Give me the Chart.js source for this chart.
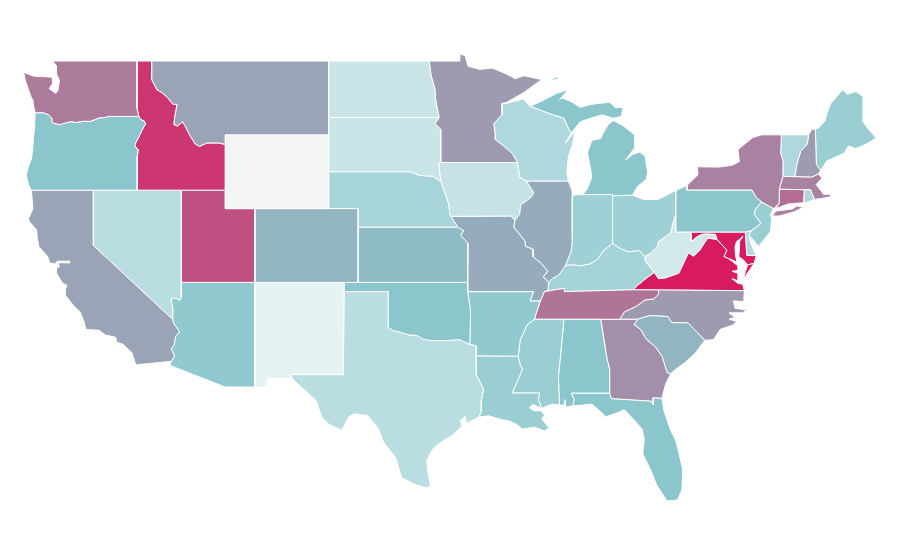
<!DOCTYPE html>
<html>
<head>
<meta charset="utf-8">
<title>US states</title>
<style>
  html, body { margin: 0; padding: 0; background: #fff; }
  canvas { display: block; }
</style>
<script src="https://cdn.jsdelivr.net/npm/chart.js@4"></script>
</head>
<body>
<canvas id="map" width="900" height="560"></canvas>
<script>
// state values
const stateCodes = ['WA','OR','CA','ID','NV','MT','WY','UT','AZ','CO','NM','ND','SD','NE','KS','OK','TX',
  'MN','IA','MO','AR','LA','WI','IL','MS','AL','TN','KY','IN','MI','OH','GA','FL','SC','NC','VA','WV','MD',
  'DE','PA','NJ','NY','CT','RI','MA','VT','NH','ME'];
const stateValues = [72,50,60,92,27,60,0,84,47,55,5,19,19,36,53,50,27,
  63,21,58,47,42,32,58,42,50,74,37,40,50,40,66,50,55,63,100,15,100,
  29,50,42,70,76,32,70,32,63,42];

// outlines, [lon, lat] rings per state
const WA = [[[-122.76,49],[-117.03,49],[-117.04,46.42],[-116.92,46],[-118.98,46],[-119.3,45.93],[-119.6,45.92],[-120.2,45.73],[-120.65,45.74],[-121.2,45.67],[-121.5,45.72],[-122,45.62],[-122.3,45.55],[-122.76,45.65],[-122.8,45.88],[-123,46.08],[-123.4,46.2],[-123.95,46.2],[-124.07,46.64],[-124.1,46.9],[-124.2,47],[-124.35,47.35],[-124.6,47.9],[-124.73,48.38],[-124,48.17],[-123.2,48.15],[-122.8,48.12],[-122.75,47.8],[-123,47.5],[-122.55,47.25],[-122.4,47.4],[-122.35,47.7],[-122.3,47.95],[-122.5,48.3],[-122.5,48.75]]];
const OR = [[[-123.95,46.2],[-123.4,46.2],[-123,46.08],[-122.8,45.88],[-122.76,45.65],[-122.3,45.55],[-122,45.62],[-121.5,45.72],[-121.2,45.67],[-120.65,45.74],[-120.2,45.73],[-119.6,45.92],[-119.3,45.93],[-118.98,46],[-116.92,46],[-116.78,45.82],[-116.55,45.75],[-116.46,45.6],[-116.67,45.3],[-116.85,45],[-117.2,44.45],[-117.05,44.23],[-116.95,44.2],[-117.03,43.83],[-117.03,42],[-124.21,42],[-124.4,42.3],[-124.55,42.84],[-124.4,43.3],[-124.2,43.7],[-124.1,44.3],[-124.07,44.8],[-123.98,45.4]]];
const CA = [[[-124.2,42],[-120,42],[-120,39],[-114.63,35],[-114.57,34.8],[-114.15,34.3],[-114.42,34.1],[-114.53,33.6],[-114.72,33.4],[-114.5,33],[-114.72,32.72],[-117.12,32.53],[-117.25,32.85],[-117.4,33.2],[-118,33.65],[-118.4,33.75],[-118.5,34.03],[-119.2,34.15],[-119.6,34.4],[-120.5,34.45],[-120.65,34.9],[-120.9,35.4],[-121.3,35.7],[-121.9,36.3],[-121.9,36.6],[-121.8,36.85],[-122.1,36.97],[-122.5,37.5],[-122.5,37.78],[-122.3,37.85],[-122.4,38.05],[-122,38.07],[-121.6,38.05],[-121.6,38.15],[-122.1,38.15],[-122.45,38.15],[-122.6,38],[-122.95,38.05],[-123.1,38.4],[-123.7,38.95],[-123.8,39.4],[-123.85,39.85],[-124.35,40.3],[-124.4,40.45],[-124.1,41]]];
const ID = [[[-117.03,49],[-116.05,49],[-116.05,48],[-115.7,47.45],[-115.3,47.25],[-114.95,47],[-114.6,46.65],[-114.33,46.65],[-114.46,46.1],[-114.55,45.56],[-114.3,45.47],[-113.95,45.7],[-113.8,45.5],[-113.45,44.95],[-113.1,44.5],[-112.8,44.37],[-112.3,44.55],[-111.5,44.55],[-111.05,44.47],[-111.05,42],[-117.03,42],[-117.03,43.83],[-116.95,44.2],[-117.05,44.23],[-117.2,44.45],[-116.85,45],[-116.67,45.3],[-116.46,45.6],[-116.55,45.75],[-116.78,45.82],[-116.92,46],[-117.04,46.42]]];
const NV = [[[-120,42],[-114.04,42],[-114.04,36.2],[-114.15,36.03],[-114.4,36.15],[-114.75,36.1],[-114.62,35.6],[-114.63,35],[-120,39]]];
const MT = [[[-116.05,49],[-104.05,49],[-104.05,45],[-111.05,45],[-111.05,44.47],[-111.5,44.55],[-112.3,44.55],[-112.8,44.37],[-113.1,44.5],[-113.45,44.95],[-113.8,45.5],[-113.95,45.7],[-114.3,45.47],[-114.55,45.56],[-114.46,46.1],[-114.33,46.65],[-114.6,46.65],[-114.95,47],[-115.3,47.25],[-115.7,47.45],[-116.05,48]]];
const WY = [[[-111.05,45],[-104.05,45],[-104.05,41],[-111.05,41]]];
const UT = [[[-114.04,42],[-111.05,42],[-111.05,41],[-109.05,41],[-109.05,37],[-114.04,37]]];
const AZ = [[[-114.04,37],[-109.05,37],[-109.05,31.33],[-111.07,31.33],[-114.81,32.5],[-114.72,32.72],[-114.5,33],[-114.72,33.4],[-114.53,33.6],[-114.42,34.1],[-114.15,34.3],[-114.57,34.8],[-114.63,35],[-114.62,35.6],[-114.75,36.1],[-114.4,36.15],[-114.15,36.03],[-114.05,36.2]]];
const CO = [[[-109.05,41],[-102.05,41],[-102.05,37],[-109.05,37]]];
const NM = [[[-109.05,37],[-103,37],[-103.05,32],[-106.62,32],[-106.53,31.78],[-108.2,31.78],[-108.2,31.33],[-109.05,31.33]]];
const ND = [[[-104.05,49],[-97.23,49],[-97.1,48.2],[-96.85,47.5],[-96.8,46.9],[-96.56,45.94],[-104.05,45.94]]];
const SD = [[[-104.05,45.94],[-96.56,45.94],[-96.85,45.6],[-96.45,45.3],[-96.45,43.5],[-96.6,43.5],[-96.45,42.49],[-97,42.75],[-97.9,42.8],[-98.5,43],[-104.05,43]]];
const NE = [[[-104.05,43],[-98.5,43],[-97.9,42.8],[-97,42.75],[-96.45,42.49],[-96.1,41.7],[-95.9,41.2],[-95.85,40.7],[-95.3,40],[-102.05,40],[-102.05,41],[-104.05,41]]];
const KS = [[[-102.05,40],[-95.3,40],[-94.9,39.8],[-95.1,39.55],[-94.6,39.12],[-94.62,37],[-102.05,37]]];
const OK = [[[-103,37],[-94.62,37],[-94.62,36.5],[-94.43,35.4],[-94.48,33.64],[-95.2,33.9],[-96,33.85],[-96.6,33.85],[-97.2,33.85],[-97.7,33.95],[-98.1,34.13],[-98.6,34.15],[-99.2,34.3],[-99.7,34.4],[-100,34.56],[-100,36.5],[-103,36.5]]];
const TX = [[[-103,36.5],[-100,36.5],[-100,34.56],[-99.7,34.4],[-99.2,34.3],[-98.6,34.15],[-98.1,34.13],[-97.7,33.95],[-97.2,33.85],[-96.6,33.85],[-96,33.85],[-95.2,33.9],[-94.48,33.64],[-94.04,33.55],[-94.04,32],[-93.55,31.2],[-93.7,30.6],[-93.7,30.05],[-93.85,29.7],[-94.7,29.35],[-94.8,29.75],[-95.1,29.5],[-95,29.2],[-95.6,28.75],[-96.4,28.35],[-96.9,28.05],[-97.2,27.65],[-97.4,27.3],[-97.35,26.9],[-97.15,25.97],[-97.4,25.85],[-98.2,26.05],[-99.1,26.4],[-99.5,27.5],[-100.3,28.3],[-100.7,29.1],[-101.4,29.77],[-102.3,29.88],[-102.7,29.7],[-103.15,28.98],[-104,29.3],[-104.5,29.65],[-104.9,30.6],[-106,31.4],[-106.53,31.78],[-106.62,32],[-103.05,32]]];
const MN = [[[-97.23,49],[-95.15,49],[-95.15,49.38],[-94.8,49.3],[-94.6,48.72],[-93.8,48.55],[-92.95,48.62],[-92,48.3],[-91.4,48.05],[-90.8,48.2],[-89.6,48],[-90.8,47.3],[-92,46.75],[-92.3,46.7],[-92.3,46.1],[-92.85,45.6],[-92.75,45],[-92.75,44.75],[-92.2,44.4],[-91.6,44],[-91.25,43.5],[-96.45,43.5],[-96.45,45.3],[-96.85,45.6],[-96.56,45.94],[-96.8,46.9],[-96.85,47.5],[-97.1,48.2]]];
const IA = [[[-96.6,43.5],[-91.25,43.5],[-91.1,42.7],[-90.65,42.5],[-90.15,41.85],[-90.35,41.6],[-91.05,41.2],[-91.1,40.7],[-91.42,40.38],[-91.7,40.6],[-95.77,40.58],[-95.85,40.7],[-95.9,41.2],[-96.1,41.7],[-96.45,42.49]]];
const MO = [[[-95.77,40.58],[-91.7,40.6],[-91.42,40.38],[-91.5,40],[-90.75,39.25],[-90.7,38.95],[-90.2,38.8],[-90.2,38.4],[-89.6,38],[-89.2,37.6],[-89.5,37.3],[-89.13,37],[-89.15,36.6],[-89.42,36.5],[-89.7,36],[-90.37,36],[-90.15,36.5],[-94.62,36.5],[-94.62,39.12],[-95.1,39.55],[-94.9,39.8],[-95.3,40]]];
const AR = [[[-94.62,36.5],[-90.15,36.5],[-90.37,36],[-89.7,36],[-90.1,35],[-90.6,34.7],[-91.05,33.9],[-91.2,33],[-94.04,33.02],[-94.04,33.55],[-94.48,33.64],[-94.43,35.4]]];
const LA = [[[-94.04,33.02],[-91.2,33],[-91.05,32.5],[-90.9,32.3],[-91.6,31],[-89.73,31],[-89.85,30.65],[-89.6,30.18],[-90.2,30.38],[-90.45,30.2],[-90.1,30.03],[-89.7,30.05],[-89.4,29.8],[-89.6,29.6],[-89.1,29.1],[-89.4,28.95],[-90.1,29.15],[-90.9,29.05],[-91.3,29.3],[-91.85,29.5],[-92.3,29.55],[-93.2,29.77],[-93.85,29.7],[-93.7,30.05],[-93.7,30.6],[-93.55,31.2],[-94.04,32]]];
const WI = [[[-92.3,46.7],[-92,46.7],[-90.85,46.95],[-90.4,46.55],[-89.1,46.15],[-88.1,45.9],[-87.8,45.35],[-87.6,45.1],[-88,44.55],[-87.35,45.2],[-87.5,44.5],[-87.8,43.8],[-87.9,43],[-87.8,42.5],[-90.65,42.5],[-91.1,42.7],[-91.25,43.5],[-91.6,44],[-92.2,44.4],[-92.75,44.75],[-92.75,45],[-92.85,45.6],[-92.3,46.1]]];
const IL = [[[-90.65,42.5],[-87.8,42.5],[-87.55,42],[-87.53,41.7],[-87.53,39.35],[-87.6,38.7],[-88,37.9],[-88.45,37.4],[-88.9,37.2],[-89.13,37],[-89.5,37.3],[-89.2,37.6],[-89.6,38],[-90.2,38.4],[-90.2,38.8],[-90.7,38.95],[-90.75,39.25],[-91.5,40],[-91.42,40.38],[-91.1,40.7],[-91.05,41.2],[-90.35,41.6],[-90.15,41.85]]];
const MS = [[[-90.1,35],[-88.2,35],[-88.1,34.9],[-88.47,31.9],[-88.4,30.35],[-88.9,30.4],[-89.6,30.18],[-89.85,30.65],[-89.73,31],[-91.6,31],[-90.9,32.3],[-91.05,32.5],[-91.2,33],[-91.05,33.9],[-90.6,34.7]]];
const AL = [[[-88.2,35],[-85.6,35],[-85.18,32.87],[-85,32.3],[-85,31],[-87.6,31],[-87.4,30.65],[-87.5,30.3],[-88,30.25],[-88,30.65],[-88.1,30.35],[-88.4,30.35],[-88.47,31.9],[-88.1,34.9]]];
const TN = [[[-90.1,35],[-84.32,35],[-84,35.4],[-83.2,35.7],[-82.6,36.05],[-82,36.1],[-81.7,36.35],[-81.68,36.59],[-83.4,36.6],[-88.07,36.5],[-88.07,36.68],[-89.42,36.5],[-89.7,36]]];
const KY = [[[-89.42,36.5],[-88.07,36.68],[-88.07,36.5],[-83.4,36.6],[-83.1,36.85],[-82.4,37.3],[-81.97,37.54],[-82.6,38.17],[-82.6,38.4],[-83,38.73],[-83.7,38.65],[-84.2,38.8],[-84.8,39.1],[-85.4,38.73],[-85.8,38.27],[-86.3,38],[-87,37.9],[-87.6,37.95],[-88,37.9],[-88.45,37.4],[-88.9,37.2],[-89.13,37],[-89.15,36.6]]];
const IN = [[[-87.53,41.7],[-87.2,41.76],[-86.8,41.76],[-84.8,41.76],[-84.8,39.1],[-85.4,38.73],[-85.8,38.27],[-86.3,38],[-87,37.9],[-87.6,37.95],[-88,37.9],[-87.6,38.7],[-87.53,39.35]]];
const MI = [
  [[-86.8,41.76],[-84.8,41.76],[-84.8,41.7],[-83.45,41.73],[-83.1,42.2],[-82.5,42.6],[-82.42,43],[-82.6,43.85],[-82.95,44.07],[-83.4,43.95],[-83.9,43.65],[-83.3,44.3],[-83.3,45],[-84.1,45.5],[-84.75,45.78],[-85.1,45.55],[-85.5,45],[-85.6,44.8],[-86.2,44.7],[-86.5,44.05],[-86.3,43.2],[-86.2,42.7],[-86.5,42.1]],
  [[-90.4,46.55],[-89.1,46.15],[-88.1,45.9],[-87.8,45.35],[-87.6,45.1],[-87,45.7],[-86.3,45.9],[-85.5,46.08],[-84.75,45.9],[-84.2,46],[-84.1,46.5],[-84.6,46.47],[-85,46.77],[-86.1,46.67],[-87,46.5],[-87.6,46.8],[-88.2,47],[-88.4,46.9],[-87.8,47.45],[-88.6,47.25],[-89.6,46.83]],
  [[-89.2,47.85],[-88.6,48.15],[-88.45,48.05]]
];
const OH = [[[-84.8,41.7],[-83.45,41.73],[-82.7,41.5],[-81.7,41.5],[-80.52,41.98],[-80.52,40.64],[-80.65,40.4],[-80.85,39.7],[-81.7,39.2],[-81.75,38.95],[-82.2,38.6],[-82.6,38.4],[-83,38.73],[-83.7,38.65],[-84.2,38.8],[-84.8,39.1]]];
const GA = [[[-85.6,35],[-83.1,35],[-83.35,34.7],[-82.9,34.45],[-82.55,33.95],[-81.9,33.5],[-81.45,33],[-81.1,32.1],[-80.85,32.05],[-81.2,31.5],[-81.45,30.72],[-82.05,30.75],[-82.05,30.37],[-82.2,30.57],[-84.87,30.7],[-85,31],[-85,32.3],[-85.18,32.87]]];
const FL = [[[-87.6,31],[-85,31],[-84.87,30.7],[-82.2,30.57],[-82.05,30.37],[-82.05,30.75],[-81.45,30.72],[-81.3,30],[-80.9,29.05],[-80.5,28.4],[-80.05,26.9],[-80.1,25.75],[-80.4,25.2],[-81.1,25.15],[-81.8,26],[-82.2,26.8],[-82.75,27.7],[-82.65,28.5],[-82.8,29.05],[-83.4,29.6],[-84,30.1],[-84.4,29.95],[-85.3,29.7],[-85.4,29.85],[-86.2,30.4],[-87.5,30.3],[-87.4,30.65]]];
const SC = [[[-83.1,35],[-82.3,35.2],[-81.05,35.15],[-80.8,34.82],[-79.67,34.8],[-78.55,33.86],[-79.15,33.2],[-79.9,32.65],[-80.5,32.3],[-80.85,32.05],[-81.1,32.1],[-81.45,33],[-81.9,33.5],[-82.55,33.95],[-82.9,34.45],[-83.35,34.7]]];
const NC = [[[-84.32,35],[-83.1,35],[-82.3,35.2],[-81.05,35.15],[-80.8,34.82],[-79.67,34.8],[-78.55,33.86],[-77.95,33.9],[-77.5,34.45],[-76.6,34.7],[-76.4,34.9],[-76.9,35],[-76.5,35.1],[-76.9,35.35],[-76,35.35],[-75.7,35.5],[-76.5,35.6],[-76.6,36],[-75.9,35.95],[-75.87,36.55],[-81.68,36.59],[-81.7,36.35],[-82,36.1],[-82.6,36.05],[-83.2,35.7],[-84,35.4]]];
const VA = [
  [[-83.4,36.6],[-75.87,36.55],[-75.97,36.9],[-76.3,36.95],[-76.7,37.2],[-76.35,37.1],[-76.3,37.5],[-76.7,37.6],[-76.3,37.65],[-76.3,37.9],[-76.95,38.3],[-77.25,38.4],[-77.05,38.75],[-77.72,39.32],[-78.35,39.4],[-78.87,38.76],[-79.3,38.42],[-79.65,38.6],[-80.3,37.5],[-81.22,37.24],[-81.68,37.2],[-81.97,37.54],[-82.4,37.3],[-83.1,36.85]],
  [[-75.95,37.15],[-75.65,37.95],[-75.2,38.03],[-75.4,37.8]]
];
const WV = [[[-80.52,40.64],[-80.52,39.72],[-79.48,39.72],[-79.48,39.2],[-79.07,39.47],[-78.75,39.6],[-78.4,39.62],[-77.83,39.6],[-77.72,39.32],[-78.35,39.4],[-78.87,38.76],[-79.3,38.42],[-79.65,38.6],[-80.3,37.5],[-81.22,37.24],[-81.68,37.2],[-81.97,37.54],[-82.6,38.17],[-82.6,38.4],[-82.2,38.6],[-81.75,38.95],[-81.7,39.2],[-80.85,39.7],[-80.65,40.4]]];
const MD = [[[-79.48,39.72],[-75.8,39.72],[-75.7,38.46],[-75.05,38.45],[-75.2,38.03],[-75.65,37.95],[-75.9,38.2],[-76.25,38.4],[-76.2,38.75],[-76.2,39.2],[-75.95,39.5],[-76.4,39.2],[-76.5,38.9],[-76.45,38.4],[-76.35,38.1],[-76.95,38.3],[-77.25,38.4],[-77.05,38.75],[-77.72,39.32],[-77.83,39.6],[-78.4,39.62],[-78.75,39.6],[-79.07,39.47],[-79.48,39.2]]];
const DE = [[[-75.8,39.72],[-75.4,39.8],[-75.55,39.5],[-75.4,39.05],[-75.05,38.45],[-75.7,38.46]]];
const PA = [[[-80.52,41.98],[-79.76,42.25],[-79.76,42],[-75.35,42],[-75.05,41.6],[-74.7,41.36],[-75.1,41],[-75.2,40.7],[-74.75,40.2],[-75.4,39.8],[-75.8,39.72],[-80.52,39.72]]];
const NJ = [[[-74.7,41.36],[-73.9,41],[-74.1,40.65],[-74,40.45],[-74.1,39.75],[-74.9,38.95],[-75.2,39.25],[-75.55,39.55],[-75.4,39.8],[-74.75,40.2],[-75.2,40.7],[-75.1,41]]];
const NY = [
  [[-79.76,42.25],[-79.76,42],[-75.35,42],[-75.05,41.6],[-74.7,41.36],[-73.9,41],[-73.73,41.1],[-73.5,41.3],[-73.5,42.05],[-73.25,42.75],[-73.25,43.6],[-73.4,44],[-73.35,45],[-74.7,45],[-75.3,44.85],[-76.3,44.2],[-76.2,43.55],[-76.7,43.35],[-77.6,43.25],[-79.05,43.27],[-79,42.85]],
  [[-74,40.6],[-73.7,40.87],[-72.6,40.98],[-72.3,41.15],[-71.87,41.07],[-72.5,40.82],[-73.5,40.6]]
];
const CT = [[[-73.5,42.05],[-71.8,42.02],[-71.85,41.32],[-72.9,41.25],[-73.73,41],[-73.5,41.3]]];
const RI = [[[-71.8,42.02],[-71.38,42.02],[-71.2,41.68],[-71.12,41.5],[-71.5,41.37],[-71.85,41.32]]];
const MA = [[[-73.5,42.05],[-73.25,42.75],[-72.45,42.73],[-71.3,42.7],[-70.85,42.87],[-70.6,42.65],[-71,42.3],[-70.65,41.95],[-70.5,41.78],[-70.05,41.78],[-70,41.65],[-70.6,41.55],[-71.12,41.5],[-71.2,41.68],[-71.38,42.02],[-71.8,42.02]]];
const VT = [[[-73.35,45],[-71.5,45],[-71.6,44.5],[-72.05,44.1],[-72.3,43.4],[-72.45,42.73],[-73.25,42.75],[-73.25,43.6],[-73.4,44]]];
const NH = [[[-71.5,45],[-71.3,45.3],[-71.05,45.3],[-70.98,43.4],[-70.7,43.07],[-70.85,42.87],[-71.3,42.7],[-72.45,42.73],[-72.3,43.4],[-72.05,44.1],[-71.6,44.5]]];
const ME = [[[-71.05,45.3],[-70.8,45.4],[-70.4,45.75],[-70.25,46.2],[-70,46.7],[-69.2,47.45],[-68.9,47.2],[-68.3,47.35],[-67.8,47.07],[-67.8,45.7],[-67.45,45.3],[-67,44.9],[-66.95,44.8],[-67.6,44.5],[-68.3,44.25],[-68.8,44.4],[-69.1,44],[-69.8,43.75],[-70.25,43.6],[-70.7,43.07],[-70.98,43.4]]];

const stateShapes = [WA,OR,CA,ID,NV,MT,WY,UT,AZ,CO,NM,ND,SD,NE,KS,OK,TX,
  MN,IA,MO,AR,LA,WI,IL,MS,AL,TN,KY,IN,MI,OH,GA,FL,SC,NC,VA,WV,MD,
  DE,PA,NJ,NY,CT,RI,MA,VT,NH,ME];

// colour ramp stops: [value, rgb]
const rampStops = [[0,[243,244,246]],[5,[229,243,244]],[50,[138,198,204]],[100,[216,27,96]]];
function valueColor(v){
  let k = 0;
  while(k < rampStops.length-2 && v > rampStops[k+1][0]) k++;
  const [v0,a] = rampStops[k], [v1,b] = rampStops[k+1];
  const t = (v-v0)/(v1-v0);
  const c = a.map((x,i) => Math.round(x + (b[i]-x)*t));
  return `rgb(${c[0]},${c[1]},${c[2]})`;
}

const datasets = [];
stateCodes.forEach((code,i) => {
  stateShapes[i].forEach(ring => {
    const pts = ring.concat([ring[0]]).map(p => ({x:p[0], y:p[1]}));
    datasets.push({
      label: code,
      data: pts,
      showLine: true,
      fill: 'shape',
      backgroundColor: valueColor(stateValues[i]),
      borderColor: '#fff',
      borderWidth: 1,
      pointRadius: 0,
      pointHoverRadius: 0,
      tension: 0
    });
  });
});

new Chart(document.getElementById('map'), {
  type: 'scatter',
  data: { datasets },
  options: {
    responsive: false,
    animation: false,
    layout: { padding: 0 },
    plugins: { legend: { display:false }, tooltip: { enabled:false } },
    scales: {
      x: { type:'linear', display:false, min:-126.33, max:-65.31 },
      y: { type:'linear', display:false, min:21.95, max:52.31 }
    }
  }
});
</script>
</body>
</html>
